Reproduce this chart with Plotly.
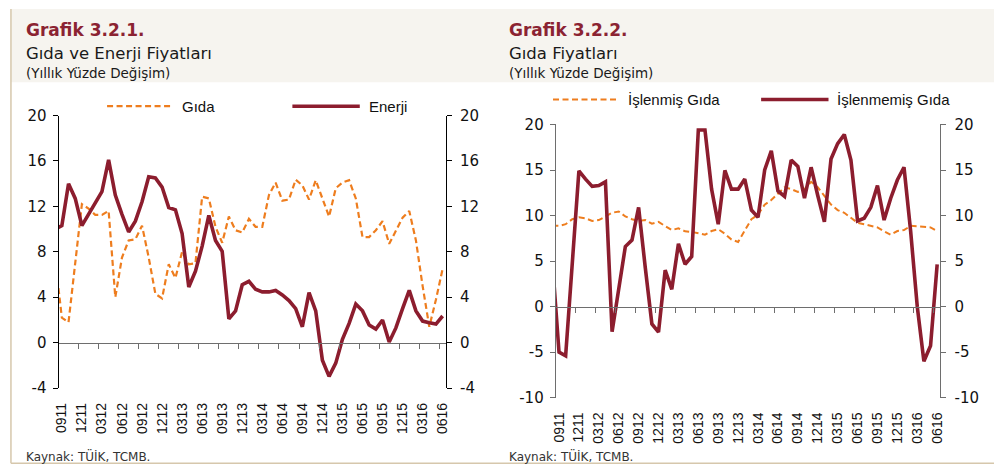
import plotly.graph_objects as go

# ---------------- data ----------------
# months from 08/2011 (first point only partly visible, clipped at the axis) to 06/2016, label format MMYY
months = []
y, m = 2011, 8
while (y, m) <= (2016, 6):
    months.append(f"{m:02d}{y % 100:02d}")
    m += 1
    if m > 12:
        m, y = 1, y + 1

gida = [7.3,
        2.2, 1.8, 7.0, 12.2, 11.8, 11.25, 11.25, 11.6, 4.0, 7.5,
        9.0, 9.1, 10.3, 7.5, 4.3, 3.9, 6.9, 5.7, 8.0, 6.9,
        7.0, 12.85, 12.7, 10.2, 8.8, 11.1, 9.9, 9.7, 10.9, 10.2,
        10.2, 13.0, 14.1, 12.5, 12.6, 14.35, 13.85, 12.6, 14.3, 12.7,
        11.1, 13.6, 14.1, 14.3, 12.7, 9.3, 9.3, 9.9, 10.7, 8.7,
        9.9, 11.0, 11.6, 9.0, 5.0, 1.4, 3.8, 6.5]

enerji = [10.0,
          10.3, 14.0, 12.7, 10.3, 11.3, 12.2, 13.3, 16.1, 13.0, 11.3,
          9.75, 10.7, 12.4, 14.6, 14.5, 13.7, 11.9, 11.7, 9.6, 4.9,
          6.3, 8.5, 11.2, 9.0, 8.05, 2.1, 2.8, 5.1, 5.4, 4.7,
          4.47, 4.47, 4.6, 4.2, 3.7, 3.0, 1.4, 4.4, 2.8, -1.55,
          -2.97, -1.8, 0.3, 1.7, 3.4, 2.8, 1.56, 1.2, 2.0, 0.06,
          1.3, 3.0, 4.6, 2.8, 1.9, 1.75, 1.64, 2.35]

islenmis = [8.9,
            8.87, 9.05, 9.6, 9.8, 9.7, 9.4, 9.5, 9.9, 10.3, 10.45,
            9.9, 9.6, 9.4, 9.5, 9.1, 9.3, 8.87, 8.4, 8.6, 8.27,
            8.2, 8.06, 7.9, 8.3, 8.5, 8.0, 7.36, 7.1, 8.4, 9.6,
            10.1, 11.2, 11.7, 12.4, 13.1, 12.9, 12.6, 12.9, 13.7, 13.1,
            12.2, 11.2, 10.6, 10.3, 9.75, 9.2, 9.05, 8.87, 8.7, 8.27,
            7.9, 8.3, 8.4, 8.87, 8.8, 8.7, 8.7, 8.3]

islenmemis = [5.0,
              -5.0, -5.4, 4.8, 14.9, 14.0, 13.2, 13.3, 13.7, -2.75, 2.2,
              6.6, 7.3, 10.9, 4.3, -1.9, -2.8, 4.0, 1.9, 6.9, 4.65,
              5.5, 19.4, 19.4, 12.9, 9.05, 14.96, 12.9, 12.9, 14.0, 10.6,
              9.8, 15.0, 17.1, 12.7, 12.1, 16.1, 15.4, 11.9, 15.3, 12.2,
              9.3, 16.2, 17.9, 18.9, 16.1, 9.4, 9.7, 10.9, 13.3, 9.5,
              11.9, 13.9, 15.3, 8.3, 0.0, -6.0, -4.3, 4.65]

left_yticks = [-4, 0, 4, 8, 12, 16, 20]
right_yticks = [-10, -5, 0, 5, 10, 15, 20]

idx = list(range(len(months)))
label_idx = idx[1::3]
tick_labels = [months[i] for i in label_idx]
boundary_ticks = [i - 0.5 for i in label_idx[1:]]

# ---------------- style ----------------
W, H = 998, 476
RED = "#8C1D2E"
ORANGE = "#EE7D1E"
TITLE_RED = "#8B2332"
AX_FONT = "Liberation Sans, Arial, sans-serif"
HEAD_FONT = "DejaVu Sans, sans-serif"


def px(x):
    return x / W


def py(yv):
    return 1 - yv / H


XR = [0.5, len(months) - 0.5]

# panel geometry (pixels)
L = dict(x0=54, x1=445, ytop=110.7, ybot=394, ticks=left_yticks)
R = dict(x0=555.7, x1=944, ytop=120, ybot=404, ticks=right_yticks)


def zero_pos(P):
    lo, hi = P["ticks"][0], P["ticks"][-1]
    frac = (0 - lo) / (hi - lo)
    return py(P["ybot"]) + frac * (py(P["ytop"]) - py(P["ybot"]))


fig = go.Figure()

# left panel
fig.add_trace(go.Scatter(x=idx, y=gida, xaxis="x", yaxis="y", mode="lines",
                         line=dict(color=ORANGE, width=2.2, dash="6px,3.5px"), showlegend=False, name="Gıda"))
fig.add_trace(go.Scatter(x=[], y=[], xaxis="x3", yaxis="y", mode="lines", showlegend=False, hoverinfo="skip"))
fig.add_trace(go.Scatter(x=idx, y=enerji, xaxis="x", yaxis="y2", mode="lines",
                         line=dict(color=RED, width=3.6), showlegend=False, name="Enerji"))
# right panel
fig.add_trace(go.Scatter(x=idx, y=islenmis, xaxis="x2", yaxis="y3", mode="lines",
                         line=dict(color=ORANGE, width=2, dash="6px,3.5px"), showlegend=False, name="İşlenmiş Gıda"))
fig.add_trace(go.Scatter(x=[], y=[], xaxis="x4", yaxis="y3", mode="lines", showlegend=False, hoverinfo="skip"))
fig.add_trace(go.Scatter(x=idx, y=islenmemis, xaxis="x2", yaxis="y4", mode="lines",
                         line=dict(color=RED, width=3.6), showlegend=False, name="İşlenmemiş Gıda"))


def xaxis_main(P, anchor):
    return dict(domain=[px(P["x0"]), px(P["x1"])], anchor=anchor, range=XR,
                tickmode="array", tickvals=label_idx, ticktext=tick_labels, tickangle=-90,
                ticks="", ticklabelstandoff=11, showline=False, showgrid=False, zeroline=False,
                tickfont=dict(family=AX_FONT, size=14, color="#111"))


def xaxis_zero(P, over, col):
    return dict(overlaying=over, anchor="free", position=zero_pos(P), range=XR,
                tickmode="array", tickvals=boundary_ticks, ticks="outside", ticklen=5,
                tickcolor=col, tickwidth=1, showticklabels=False, showline=True,
                linecolor=col, linewidth=1, showgrid=False, zeroline=False)


def yaxis(P, anchor, side, col, over=None):
    t = P["ticks"]
    d = dict(range=[t[0], t[-1]], tickmode="array", tickvals=t, ticktext=[str(v) for v in t],
             ticks="outside", ticklen=5, tickcolor=col, showline=True, linecolor=col, linewidth=1,
             showgrid=False, zeroline=False, side=side, anchor=anchor,
             ticklabelstandoff=5 if side == "right" else 3,
             tickfont=dict(family=HEAD_FONT, size=15, color="#111"))
    if over:
        d["overlaying"] = over
    else:
        d["domain"] = [py(P["ybot"]), py(P["ytop"])]
    return d


fig.update_layout(
    width=W, height=H, autosize=False,
    margin=dict(l=0, r=0, t=0, b=0),
    paper_bgcolor="white", plot_bgcolor="rgba(0,0,0,0)",
    xaxis=xaxis_main(L, "y"),
    xaxis3=xaxis_zero(L, "x", "#6e6e6e"),
    yaxis=yaxis(L, "x", "left", "#000"),
    yaxis2=yaxis(L, "x", "right", "#000", over="y"),
    xaxis2=xaxis_main(R, "y3"),
    xaxis4=xaxis_zero(R, "x2", "#6e6e6e"),
    yaxis3=yaxis(R, "x2", "left", "#6e6e6e"),
    yaxis4=yaxis(R, "x2", "right", "#6e6e6e", over="y3"),
)

shapes = [
    # header band
    dict(type="rect", xref="paper", yref="paper", x0=px(6), x1=1, y0=py(76), y1=1,
         fillcolor="#F6F4EF", line=dict(width=0), layer="below"),
    # frame lines
    dict(type="line", xref="paper", yref="paper", x0=px(6), x1=px(6), y0=py(472), y1=1,
         line=dict(color="#D6C7AC", width=1.5)),
    dict(type="line", xref="paper", yref="paper", x0=px(6), x1=1, y0=py(472), y1=py(472),
         line=dict(color="#D6C7AC", width=1.5)),
]

annotations = []


def text(x, yv, s, size, family=AX_FONT, color="#111", bold=False):
    annotations.append(dict(xref="paper", yref="paper", x=px(x), y=py(yv), text=f"<b>{s}</b>" if bold else s,
                            showarrow=False, xanchor="left", yanchor="middle",
                            font=dict(family=family, size=size, color=color)))


def legend_item(x0, x1, yv, label, color, dash, width):
    shapes.append(dict(type="line", xref="paper", yref="paper", x0=px(x0), x1=px(x1), y0=py(yv), y1=py(yv),
                       line=dict(color=color, width=width, dash=dash)))
    text(x1 + 7, yv, label, 15)


# headers
for x, num, sub in [(20, "Grafik 3.2.1.", "Gıda ve Enerji Fiyatları"), (508, "Grafik 3.2.2.", "Gıda Fiyatları")]:
    text(x - 1, 22, num, 17, family=HEAD_FONT, color=TITLE_RED, bold=True)
    text(x - 1, 46, sub, 16.5, family=HEAD_FONT, color="#1a1a1a")
    text(x - 1, 67, "(Yıllık Yüzde Değişim)", 13.5, family=HEAD_FONT, color="#1a1a1a")
    text(x - 1, 465, "Kaynak: TÜİK, TCMB.", 12, family=HEAD_FONT, color="#333")

legend_item(103, 170, 101, "Gıda", ORANGE, "6px,3.5px", 2.2)
legend_item(290, 358, 101, "Enerji", RED, "solid", 3.6)
legend_item(553, 620, 94, "İşlenmiş Gıda", ORANGE, "6px,3.5px", 2)
legend_item(763, 831, 94, "İşlenmemiş Gıda", RED, "solid", 3.6)

fig.update_layout(shapes=shapes, annotations=annotations)
fig.write_html("out.html", config={"displayModeBar": False},
               post_script="document.body.style.margin='0';document.body.style.overflow='hidden';")
